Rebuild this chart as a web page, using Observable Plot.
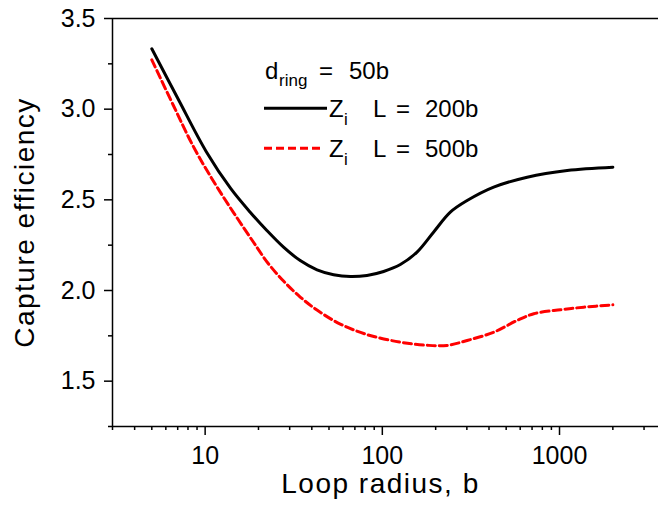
<!DOCTYPE html>
<html>
<head>
<meta charset="utf-8">
<script src="https://cdn.jsdelivr.net/npm/d3@7"></script>
<script src="https://cdn.jsdelivr.net/npm/@observablehq/plot@0.6"></script>
<style>
  html, body { margin: 0; padding: 0; background: #fff; overflow: hidden; }
  #chart svg { display: block; }
</style>
</head>
<body>
<div id="chart"></div>
<script>
// ---- data ----
const radiusL200 = [5, 7.04, 10.13, 13.93, 17.96, 22.3, 27.7, 34.4, 42.8, 53.1, 66, 81.9, 101.7, 126.4, 157, 195, 242, 301, 425, 657, 1105, 2000];
const effL200    = [3.333, 3.056, 2.767, 2.563, 2.432, 2.331, 2.239, 2.165, 2.114, 2.087, 2.077, 2.083, 2.105, 2.143, 2.212, 2.323, 2.432, 2.496, 2.570, 2.625, 2.662, 2.680];

const radiusL500 = [5, 6.6, 8.7, 12.0, 18.75, 22.7, 27.7, 34.4, 42.8, 57.9, 81.9, 126.4, 178.8, 232, 301, 425, 577, 716, 1013, 1372, 2000];
const effL500    = [3.272, 3.023, 2.783, 2.552, 2.266, 2.149, 2.052, 1.964, 1.892, 1.815, 1.757, 1.715, 1.698, 1.697, 1.724, 1.770, 1.835, 1.872, 1.894, 1.908, 1.921];

const xMajorTicks = [10, 100, 1000];
const xMinorTicks = [3, 4, 5, 6, 7, 8, 9, 20, 30, 40, 50, 60, 70, 80, 90, 200, 300, 400, 500, 600, 700, 800, 900, 2000, 3000];
const yMajorTicks = [1.5, 2.0, 2.5, 3.0, 3.5];
const yMinorTicks = [1.25, 1.75, 2.25, 2.75, 3.25];

const xTitle = "Loop radius, b";
const yTitle = "Capture efficiency";
const legendHeader = { main: "d", sub: "ring", rest: ["=", "50b"] };
const seriesNames = [
  { main: "Z", sub: "i", rest: ["L", "=", "200b"], color: "#000000", dash: null },
  { main: "Z", sub: "i", rest: ["L", "=", "500b"], color: "#ff0000", dash: "8,4" }
];

const dataL200 = radiusL200.map((r, i) => ({ r, e: effL200[i] }));
const dataL500 = radiusL500.map((r, i) => ({ r, e: effL500[i] }));

const FONT = "'Liberation Sans', Arial, Helvetica, sans-serif";

const chart = Plot.plot({
  width: 658,
  height: 513,
  marginTop: 18,
  marginBottom: 87,
  marginLeft: 112,
  marginRight: 0,
  x: { type: "log", domain: [3, 3620] },
  y: { domain: [1.25, 3.5] },
  style: { fontFamily: FONT, fontSize: "24px", color: "black", background: "white" },
  marks: [
    // frame lines
    Plot.ruleY([3.5], { stroke: "black", strokeWidth: 1.5 }),
    Plot.ruleY([1.25], { stroke: "black", strokeWidth: 1.5 }),
    Plot.ruleX([3], { stroke: "black", strokeWidth: 1.5 }),
    // x axis
    Plot.axisX(xMinorTicks, { tickSize: 4, strokeWidth: 1.5, tickFormat: () => "", label: null }),
    Plot.axisX(xMajorTicks, { tickSize: 9, tickPadding: 11, strokeWidth: 1.5, tickFormat: d => String(d), label: null, fontSize: 25 }),
    // y axis
    Plot.axisY(yMinorTicks, { tickSize: 4, strokeWidth: 1.5, tickFormat: () => "", label: null }),
    Plot.axisY(yMajorTicks, { tickSize: 8, tickPadding: 9, strokeWidth: 1.5, tickFormat: d3.format(".1f"), label: null, fontSize: 25 }),
    // curves
    Plot.line(dataL500, { x: "r", y: "e", stroke: "#ff0000", strokeWidth: 3, strokeDasharray: "8,4", curve: "catmull-rom" }),
    Plot.line(dataL200, { x: "r", y: "e", stroke: "black", strokeWidth: 3, curve: "catmull-rom" }),
    // axis titles
    Plot.text([xTitle], { text: d => d, frameAnchor: "bottom", textAnchor: "middle", lineAnchor: "middle", dx: -5, dy: 57.7, fontSize: 28 }),
    Plot.text([yTitle], { text: d => d, frameAnchor: "left", textAnchor: "middle", lineAnchor: "middle", rotate: -90, dx: -87, fontSize: 28 })
  ]
});

document.getElementById("chart").appendChild(chart);

const svg = d3.select(chart);
svg.selectAll("text")
  .filter(function () { return this.textContent === xTitle || this.textContent === yTitle; })
  .attr("letter-spacing", "1.5px");

// ---- legend ----
const lg = svg.append("g").attr("font-family", FONT).attr("fill", "black").attr("text-anchor", "start");
const main = 24, sub = 17;
function put(x, y, t, size) {
  lg.append("text").attr("x", x).attr("y", y).attr("font-size", size).attr("text-anchor", "start").text(t);
}
// header
put(265, 79.3, legendHeader.main, main);
put(279, 86, legendHeader.sub, sub);
put(319, 79.3, legendHeader.rest[0], main);
put(349, 79.3, legendHeader.rest[1], main);
// series entries
seriesNames.forEach((s, i) => {
  const base = 116.7 + i * 40;
  const ly = 108.3 + i * 40;
  const l = lg.append("line")
    .attr("x1", 264).attr("x2", s.dash ? 323 : 327)
    .attr("y1", ly).attr("y2", ly)
    .attr("stroke", s.color).attr("stroke-width", 3);
  if (s.dash) l.attr("stroke-dasharray", s.dash);
  put(329, base, s.main, main);
  put(344, base + 7.8, s.sub, sub);
  put(373, base, s.rest[0], main);
  put(396, base, s.rest[1], main);
  put(425, base, s.rest[2], main);
});
</script>
</body>
</html>
